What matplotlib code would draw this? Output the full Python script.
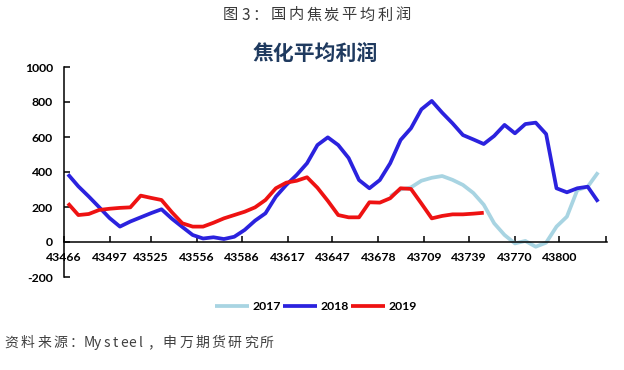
"""焦化平均利润 - weekly coking profit, 2017/2018/2019 on one date axis"""
import matplotlib
matplotlib.use('Agg')
import matplotlib.pyplot as plt

W, H = 624, 370

# x axis: Excel date serials, weekly points (Fridays of 2019)
weeks = list(range(43469, 43827, 7))

# series values (yuan/t)
y2017 = [262, 300, 312, 350, 367, 377, 355, 326, 280, 213, 107, 40, -8, 6,
         -27, -4, 88, 145, 297, 316, 398]            # starts at week 31
y2018 = [387, 318, 260, 199, 137, 88, 117, 141, 165, 187, 133, 86, 40, 20,
         27, 17, 30, 69, 122, 164, 259, 326, 383, 450, 554, 598, 554, 480,
         354, 307, 354, 450, 583, 650, 758, 806, 739, 678, 611, 586, 560,
         606, 669, 621, 674, 682, 617, 307, 284, 307, 316, 230]
y2019 = [221, 154, 160, 183, 190, 195, 198, 265, 252, 240, 170, 107, 88, 88,
         110, 135, 154, 173, 198, 240, 307, 339, 350, 370, 310, 235, 154, 141,
         141, 227, 225, 250, 307, 303, 220, 135, 149, 158, 158, 162, 167]

xticks = [43466, 43497, 43525, 43556, 43586, 43617, 43647, 43678, 43709,
          43739, 43770, 43800, 43831]
xlabels = [str(t) for t in xticks[:-1]] + ['']
yticks = [-200, 0, 200, 400, 600, 800, 1000]

CJK = ['Noto Sans CJK SC', 'DejaVu Sans']
NUM = ['Lato', 'DejaVu Sans']

fig = plt.figure(figsize=(W / 100, H / 100), dpi=100)
ax = fig.add_axes([63.5 / W, 1 - 277 / H, (607 - 63.5) / W, 210 / H])


def spaced(x, y, s, pitch, half, **kw):
    # word-style letter spacing: each glyph in its own cell
    for ch in s:
        w = pitch if ord(ch) > 0x2e80 else half
        fig.text((x + w / 2) / W, 1 - y / H, ch, ha='center', va='center', **kw)
        x += w


ax.plot(weeks[31:], y2017, color='#A8D4E2', lw=2.7, label='2017',
        solid_capstyle='butt')
ax.plot(weeks, y2018, color='#2B22DE', lw=2.7, label='2018',
        solid_capstyle='butt')
ax.plot(weeks[:len(y2019)], y2019, color='#EE1212', lw=2.7, label='2019',
        solid_capstyle='butt')

ax.set_xlim(43466, 43832)
ax.set_ylim(-200, 1000)
ax.spines['top'].set_visible(False)
ax.spines['right'].set_visible(False)
ax.spines['bottom'].set_position(('data', 0))
ax.spines['left'].set_linewidth(1.1)
ax.spines['bottom'].set_linewidth(1.1)

ax.set_xticks(xticks)
ax.set_xticklabels(xlabels)
ax.set_yticks(yticks)
ax.set_yticklabels([str(v) for v in yticks])
ax.tick_params(axis='both', direction='in', length=4, width=1.1,
               labelsize=8.8, colors='black')
ax.tick_params(axis='x', pad=7)
ax.tick_params(axis='y', pad=7.5)
for lab in ax.get_xticklabels() + ax.get_yticklabels():
    lab.set_fontfamily(NUM)
    lab.set_fontweight('bold')

leg = fig.legend(loc='center', bbox_to_anchor=(316 / W, 1 - 307 / H), ncol=3,
                 frameon=False, handlelength=2.8, handletextpad=0.3,
                 columnspacing=0.15, prop={'family': NUM, 'weight': 'bold',
                                           'size': 8.8})

# titles and source line
fig.text(315.5 / W, 1 - 53 / H, '焦化平均利润', ha='center', va='center',
         fontsize=15, fontweight='bold', color='#1F3A5F', family=CJK)
spaced(221.6, 15, '图3：国内焦炭平均利润', 17.8, 12, fontsize=11,
       color='#3A3A3A', family=CJK, fontweight='light')
spaced(3.6, 343, '资料来源：Mysteel，申万期货研究所', 16.2, 8.7, fontsize=10,
       color='#404040', family=CJK, fontweight='light')

fig.savefig('out.png', dpi=100)
